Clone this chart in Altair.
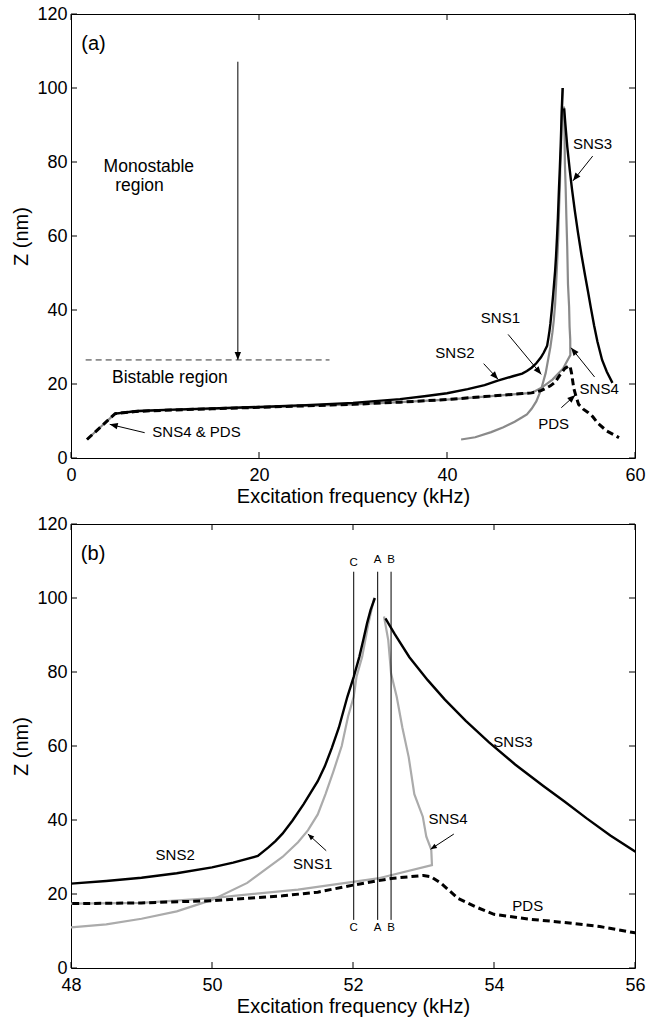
import math
import altair as alt
import pandas as pd

# ---------------- curve data (frequency kHz, Z nm) ----------------
sns2_f = [4.7, 7, 10, 15, 20, 25, 30, 35, 37.6, 40, 42.2, 44, 45.4, 47, 48, 48.5, 49, 49.5, 50,
          50.3, 50.65, 50.8, 50.9, 51.0, 51.14, 51.3, 51.5, 51.6, 51.7, 51.8, 51.92, 52.01, 52.09,
          52.15, 52.2, 52.25, 52.31]
sns2_z = [12.0, 12.7, 13.0, 13.4, 13.8, 14.3, 14.9, 15.9, 16.7, 17.5, 18.6, 19.7, 20.9, 22.1, 22.8,
          23.5, 24.4, 25.6, 27.2, 28.5, 30.3, 32.6, 34.3, 36.3, 39.8, 44.3, 50.5, 54.5, 59.5, 65,
          73.3, 78.7, 84.1, 89, 93.2, 96.8, 100]

sns1_f = [41.5, 43, 44.7, 46, 47.2, 48, 48.5, 49, 49.5, 50, 50.5, 51, 51.22, 51.36, 51.5, 51.61,
          51.72, 51.84, 51.93, 52.01, 52.05, 52.13, 52.22, 52.3]
sns1_z = [5.0, 5.6, 7.0, 8.3, 9.8, 11, 11.8, 13.3, 15.3, 18.4, 23.0, 30.0, 34.0, 37.2, 41.5, 47,
          53, 60, 68, 73.3, 78.7, 84.1, 93.2, 100]

sns3_f = [52.46, 52.59, 52.8, 53.06, 53.3, 53.6, 53.93, 54.3, 54.7, 55.0, 55.31, 55.65, 56.0,
          56.5, 57.0, 57.6]
sns3_z = [94.5, 90.3, 84.0, 77.8, 72.6, 66.8, 61.0, 55.0, 49.2, 45.0, 40.5, 35.8, 31.5,
          26.5, 23.3, 20.3]

sns4_f = [1.7, 3.2, 4.7, 7, 10, 15, 20, 25, 30, 35, 40, 44, 47, 48, 49, 50, 51.22, 52.35, 53.12,
          53.11, 53.04, 52.99, 52.87, 52.79, 52.7, 52.62, 52.54, 52.5, 52.44]
sns4_z = [5.0, 8.5, 12.0, 12.6, 12.9, 13.3, 13.7, 14.1, 14.5, 15.1, 15.8, 16.6, 17.2, 17.4, 17.6,
          18.9, 21.2, 24.2, 27.8, 32.0, 35.5, 40.9, 47, 57, 65, 73.3, 79.6, 88.6, 95]

pds_f = [1.7, 3.2, 4.7, 7, 10, 15, 20, 25, 30, 35, 40, 44, 47, 48, 49, 50, 51, 51.5, 52, 52.54,
         53.0, 53.1, 53.25, 53.49, 53.73, 54.0, 54.5, 55.0, 55.5, 56.0, 57.0, 58.3]
pds_z = [5.0, 8.5, 12.0, 12.6, 12.9, 13.3, 13.7, 14.1, 14.5, 15.1, 15.8, 16.6, 17.2, 17.4, 17.6,
         18.2, 19.5, 20.5, 22.4, 24.2, 25.0, 24.7, 22.9, 18.8, 16.6, 14.5, 13.2, 12.3, 11.2, 9.5, 7.3, 5.5]

# ---------------- axes ----------------
y_ticks = [0, 20, 40, 60, 80, 100, 120]
a_x_ticks = [0, 20, 40, 60]
b_x_ticks = [48, 50, 52, 54, 56]

# ---------------- annotations, panel (a) ----------------
a_tag = ["(a)"]; a_tag_f = [1.1]; a_tag_z = [110.4]
a_region_text = ["Monostable", "region", "Bistable region"]
a_region_f = [3.47, 4.7, 4.36]
a_region_z = [77.4, 72.2, 20.35]
a_curve_text = ["SNS4 & PDS", "SNS2", "SNS1", "SNS3", "SNS4", "PDS"]
a_curve_f = [8.65, 38.76, 43.6, 53.4, 54.1, 49.7]
a_curve_z = [5.68, 27.1, 36.5, 83.4, 17.2, 7.75]
# arrows: tail (f, z) -> head (f2, z2)
a_arrow_f = [17.75, 7.84, 43.9, 46.5, 55.5, 55.7, 52.16]
a_arrow_z = [107.1, 6.84, 25.5, 33.4, 81.6, 21.9, 13.6]
a_arrow_f2 = [17.75, 4.12, 45.43, 50.03, 53.4, 53.2, 53.65]
a_arrow_z2 = [26.5, 9.1, 21.3, 22.6, 74.9, 29.8, 17.0]
# bistable boundary (dashed)
bist_f = [1.56]; bist_f2 = [27.5]; bist_z = [26.5]

# ---------------- annotations, panel (b) ----------------
b_tag = ["(b)"]; b_tag_f = [48.14]; b_tag_z = [110.3]
b_curve_text = ["SNS2", "SNS1", "SNS4", "SNS3", "PDS"]
b_curve_f = [49.2, 51.15, 53.07, 53.99, 54.26]
b_curve_z = [29.25, 26.7, 38.9, 59.7, 15.5]
b_arrow_f = [51.62, 53.43]
b_arrow_z = [31.7, 36.2]
b_arrow_f2 = [51.36, 53.10]
b_arrow_z2 = [36.2, 32.1]
cab_text = ["C", "A", "B"]
cab_f = [52.01, 52.35, 52.54]
cab_top_z = [108.7, 109.4, 109.4]
cab_bot_z = [10.1, 10.1, 10.1]
cab_line_z = [13.0, 13.0, 13.0]
cab_line_z2 = [107.1, 107.1, 107.1]

FONT = "Liberation Sans"
W, H = 564, 444
HEAD = "M0,0L-0.4,1L0.4,1Z"


def curves_df():
    rows = []
    for name, fs, zs in [("SNS1", sns1_f, sns1_z), ("SNS2", sns2_f, sns2_z), ("SNS3", sns3_f, sns3_z),
                         ("SNS4", sns4_f, sns4_z), ("PDS", pds_f, pds_z)]:
        for i, (f, z) in enumerate(zip(fs, zs)):
            rows.append({"series": name, "i": i, "f": f, "z": z})
    return pd.DataFrame(rows)


CURVES = curves_df()


def panel(xdom, xticks, grey, grey_w, tag, tagf, tagz, curve_lbl, region_lbl, arrows, head_size, extra):
    xs = alt.Scale(domain=xdom, nice=False, zero=False)
    ys = alt.Scale(domain=[0, 120], nice=False)
    X = alt.X("f:Q", scale=xs, axis=alt.Axis(values=xticks, title="Excitation frequency (kHz)"))
    Y = alt.Y("z:Q", scale=ys, axis=alt.Axis(values=y_ticks, title="Z (nm)"))

    layers = []
    greys = CURVES[CURVES.series.isin(["SNS1", "SNS4"])]
    blacks = CURVES[CURVES.series.isin(["SNS2", "SNS3"])]
    dashed = CURVES[CURVES.series == "PDS"]
    layers.append(alt.Chart(greys).mark_line(color=grey, strokeWidth=grey_w, clip=True).encode(
        x=X, y=Y, detail="series:N", order="i:Q"))
    layers.append(alt.Chart(blacks).mark_line(color="black", strokeWidth=2.4, clip=True).encode(
        x=X, y=Y, detail="series:N", order="i:Q"))
    layers.append(alt.Chart(dashed).mark_line(color="black", strokeWidth=3, strokeDash=[7, 4], clip=True).encode(
        x=X, y=Y, detail="series:N", order="i:Q"))

    # inward ticks on all four sides
    xt = pd.DataFrame({"f": xticks})
    yt = pd.DataFrame({"z": y_ticks})
    tk = dict(color="black", strokeWidth=1)
    layers.append(alt.Chart(xt).mark_rule(**tk).encode(x=X, y=alt.value(H), y2=alt.value(H - 6)))
    layers.append(alt.Chart(xt).mark_rule(**tk).encode(x=X, y=alt.value(0), y2=alt.value(6)))
    layers.append(alt.Chart(yt).mark_rule(**tk).encode(y=Y, x=alt.value(0), x2=alt.value(6)))
    layers.append(alt.Chart(yt).mark_rule(**tk).encode(y=Y, x=alt.value(W - 6), x2=alt.value(W)))

    # texts
    layers.append(alt.Chart(pd.DataFrame({"f": tagf, "z": tagz, "t": tag})).mark_text(
        align="left", baseline="alphabetic", font=FONT, fontSize=20, color="black").encode(x=X, y=Y, text="t:N"))
    if region_lbl is not None:
        layers.append(alt.Chart(pd.DataFrame(region_lbl)).mark_text(
            align="left", baseline="alphabetic", font=FONT, fontSize=17.5, color="black").encode(x=X, y=Y, text="t:N"))
    layers.append(alt.Chart(pd.DataFrame(curve_lbl)).mark_text(
        align="left", baseline="alphabetic", font=FONT, fontSize=15, color="black").encode(x=X, y=Y, text="t:N"))

    # arrows
    sx = W / (xdom[1] - xdom[0])
    sy = H / 120.0
    af, az, af2, az2 = arrows
    ang = []
    for f1, z1, f2, z2 in zip(af, az, af2, az2):
        dx = (f2 - f1) * sx
        dy = -(z2 - z1) * sy
        ang.append(math.degrees(math.atan2(dx, -dy)) % 360)
    adf = pd.DataFrame({"f": af, "z": az, "f2": af2, "z2": az2})
    layers.append(alt.Chart(adf).mark_rule(color="black", strokeWidth=1).encode(
        x=X, y=Y, x2="f2:Q", y2="z2:Q"))
    hdf = pd.DataFrame({"f": af2, "z": az2, "ang": ang})
    layers.append(alt.Chart(hdf).mark_point(shape=HEAD, filled=True, size=head_size, color="black",
                                            opacity=1, strokeWidth=0).encode(
        x=X, y=Y, angle=alt.Angle("ang:Q", scale=None)))

    layers.extend(extra(X, Y))
    return alt.layer(*layers).properties(width=W, height=H)


def extra_a(X, Y):
    d = pd.DataFrame({"f": bist_f, "f2": bist_f2, "z": bist_z})
    return [alt.Chart(d).mark_rule(color="#333333", strokeWidth=1, strokeDash=[6, 4]).encode(
        x=X, x2="f2:Q", y=Y)]


def extra_b(X, Y):
    ld = pd.DataFrame({"f": cab_f, "z": cab_line_z, "z2": cab_line_z2})
    top = pd.DataFrame({"f": cab_f, "z": cab_top_z, "t": cab_text})
    bot = pd.DataFrame({"f": cab_f, "z": cab_bot_z, "t": cab_text})
    tx = dict(align="center", baseline="alphabetic", font=FONT, fontSize=11.5, color="black")
    return [
        alt.Chart(ld).mark_rule(color="black", strokeWidth=1).encode(x=X, y=Y, y2="z2:Q"),
        alt.Chart(top).mark_text(**tx).encode(x=X, y=Y, text="t:N"),
        alt.Chart(bot).mark_text(**tx).encode(x=X, y=Y, text="t:N"),
    ]


pa = panel([0, 60], a_x_ticks, "#8a8a8a", 2.2, a_tag, a_tag_f, a_tag_z,
           {"f": a_curve_f, "z": a_curve_z, "t": a_curve_text},
           {"f": a_region_f, "z": a_region_z, "t": a_region_text},
           (a_arrow_f, a_arrow_z, a_arrow_f2, a_arrow_z2), 256, extra_a)
pb = panel([48, 56], b_x_ticks, "#ababab", 2.2, b_tag, b_tag_f, b_tag_z,
           {"f": b_curve_f, "z": b_curve_z, "t": b_curve_text}, None,
           (b_arrow_f, b_arrow_z, b_arrow_f2, b_arrow_z2), 160, extra_b)

chart = alt.vconcat(pa, pb, spacing=7).properties(
    padding={"left": 11, "top": 4, "right": 0, "bottom": 5},
    background="white",
).configure_view(stroke="black", strokeWidth=1).configure_axis(
    domain=False, ticks=False, grid=False,
    labelFont=FONT, labelFontSize=18, labelColor="black",
    titleFont=FONT, titleFontSize=20, titleFontWeight="normal", titleColor="black",
    labelFlush=False,
).configure_axisX(labelPadding=8, titlePadding=2).configure_axisY(labelPadding=4, titlePadding=5)

chart.save("out.html", embed_options={"renderer": "svg", "actions": False})
